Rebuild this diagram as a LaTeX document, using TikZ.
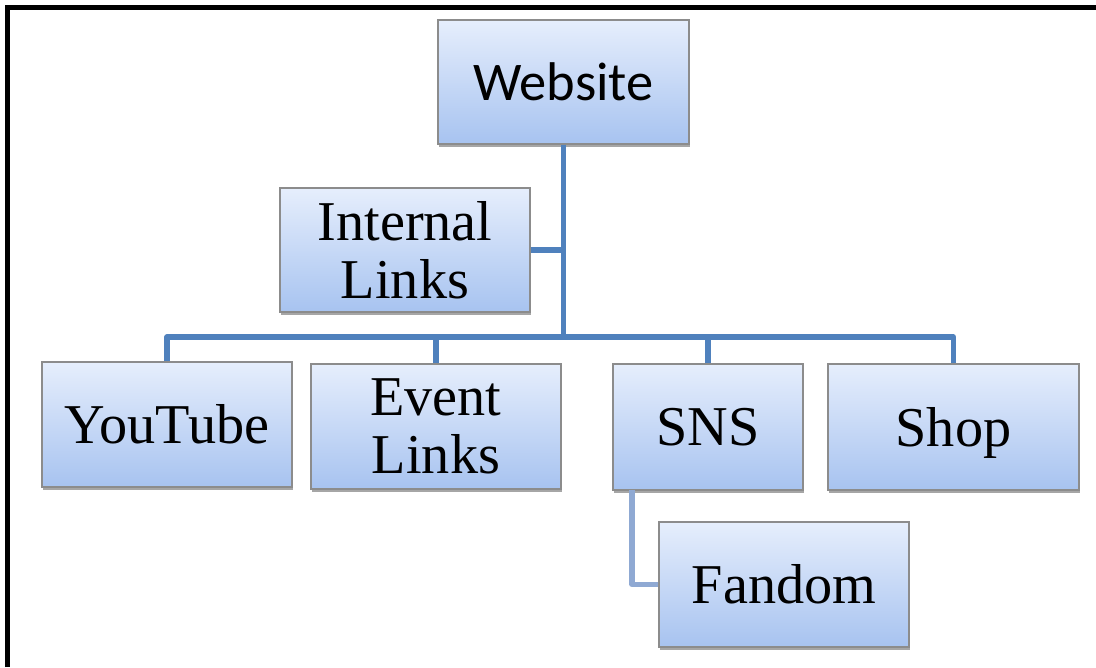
\documentclass[tikz,border=0pt]{standalone}
\usepackage{fontspec}
\setmainfont{Liberation Serif}
\newfontfamily\boxsans{Carlito}
\usetikzlibrary{shadows}
\definecolor{linkblue}{HTML}{4F81BD}
\definecolor{linklight}{HTML}{8FA9D3}
\definecolor{boxtop}{HTML}{E6EEFC}
\definecolor{boxbot}{HTML}{A7C3F0}
\definecolor{boxedge}{HTML}{8C8C8C}
\tikzset{
  x=0.02cm, y=-0.02cm,
  chartbox/.style={draw=boxedge, line width=0.8pt, top color=boxtop, bottom color=boxbot,
    minimum width=5cm, minimum height=2.5cm, inner sep=0pt, align=center,
    font=\fontsize{32}{33}\selectfont,
    drop shadow={shadow xshift=0.6pt, shadow yshift=-1.6pt, opacity=0.35, fill=black}},
  link/.style={draw=linkblue, line width=3pt, line join=round},
  sublink/.style={draw=linklight, line width=3pt, line join=round},
  frameline/.style={draw=black, line width=2.6pt}
}
\begin{document}
\begin{tikzpicture}
\useasboundingbox (0,0) rectangle (1096,667);
% outer frame: top and left edges
\draw[frameline] (7.5,667) -- (7.5,7.5) -- (1096,7.5);

% boxes
\node[chartbox, minimum width=251*0.02cm, minimum height=124*0.02cm, font=\boxsans\fontsize{31}{33}\selectfont] (web) at (563.5,82) {Website};
\node[chartbox, minimum width=250*0.02cm, minimum height=124*0.02cm] (int) at (405,250) {Internal\\Links};
\node[chartbox, minimum width=250*0.02cm, minimum height=125*0.02cm] (yt) at (167,424.5) {YouTube};
\node[chartbox, minimum width=250*0.02cm, minimum height=125*0.02cm] (ev) at (436,426.5) {Event\\Links};
\node[chartbox, minimum width=190*0.02cm, minimum height=126*0.02cm] (sns) at (708,427) {SNS};
\node[chartbox, minimum width=251*0.02cm, minimum height=126*0.02cm, text depth=0pt] (shop) at (953.5,427) {Shop};
\node[chartbox, minimum width=250*0.02cm, minimum height=125*0.02cm] (fan) at (784,584.5) {Fandom};

% connectors
\coordinate (trunk) at (web.south |- 0,337);
\draw[link] (web.south) -- (trunk);
\draw[link] (int.east) -- (int.east -| web.south);
\draw[link] (yt.north) -- (yt.north |- trunk) -- (shop.north |- trunk) -- (shop.north);
\draw[link] (ev.north) -- (ev.north |- trunk);
\draw[link] (sns.north) -- (sns.north |- trunk);
\coordinate (snsdrop) at (632,490);
\draw[sublink] (snsdrop) -- (snsdrop |- fan.west) -- (fan.west);
\end{tikzpicture}
\end{document}
